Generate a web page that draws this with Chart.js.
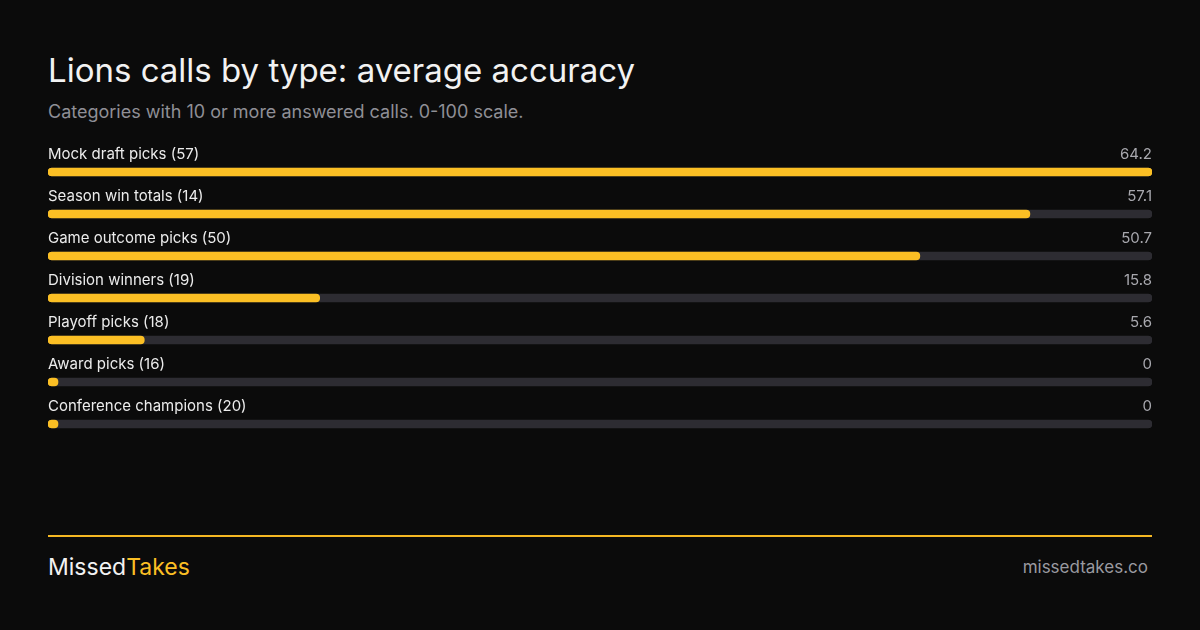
<!DOCTYPE html>
<html><head><meta charset="utf-8">
<script src="https://cdn.jsdelivr.net/npm/chart.js@4"></script>
<style>
body{margin:0;width:1200px;height:630px;background:#0b0b0b;font-family:Inter,"Noto Sans",sans-serif;position:relative;overflow:hidden}
#t{position:absolute;left:48px;top:50px;color:#f2f2f2;font-size:33px;font-weight:400}
#s{position:absolute;left:48px;top:101px;color:#8f8f96;font-size:18px}
#wrap{position:absolute;left:48px;top:131px;width:1104px;height:314px}
#line{position:absolute;left:48px;top:535px;width:1104px;height:2px;background:#f5b823}
#brand{position:absolute;left:48px;top:553px;font-size:23px;color:#f2f2f2}
#brand span{color:#fbbf24}
#url{position:absolute;right:52px;top:557px;font-size:17px;color:#9a9aa0}
</style></head><body>
<div id="t">Lions calls by type: average accuracy</div>
<div id="s">Categories with 10 or more answered calls. 0-100 scale.</div>
<div id="wrap"><canvas id="c"></canvas></div>
<div id="line"></div>
<div id="brand">Missed<span>Takes</span></div>
<div id="url">missedtakes.co</div>
<script>
const categories=["Mock draft picks (57)","Season win totals (14)","Game outcome picks (50)","Division winners (19)","Playoff picks (18)","Award picks (16)","Conference champions (20)"];
const values=[64.2,57.1,50.7,15.8,5.6,0,0];
const valueLabels=["64.2","57.1","50.7","15.8","5.6","0","0"];
const maxVal=Math.max(...values);
const labelsPlugin={id:'lbl',afterDatasetsDraw(ch){
 const ctx=ch.ctx,meta=ch.getDatasetMeta(0),a=ch.chartArea;
 ctx.save();ctx.font='15px Inter, "Noto Sans", sans-serif';ctx.textBaseline='middle';
 meta.data.forEach((b,i)=>{const y=b.y-18;
  ctx.fillStyle='#ececec';ctx.textAlign='left';ctx.fillText(categories[i],a.left,y);
  ctx.fillStyle='#a8a8ae';ctx.textAlign='right';ctx.fillText(valueLabels[i],a.right,y);});
 ctx.restore();}};
new Chart(document.getElementById('c'),{type:'bar',
 data:{labels:categories,datasets:[
  {data:values,backgroundColor:'#fbbf24',barThickness:8,borderRadius:4,borderSkipped:false,minBarLength:10,grouped:false,order:0},
  {data:values.map(()=>maxVal),backgroundColor:'#2d2c32',barThickness:8,borderRadius:4,borderSkipped:false,grouped:false,order:1}]},
 options:{indexAxis:'y',responsive:true,maintainAspectRatio:false,animation:false,
  layout:{padding:{top:20,left:0,right:0,bottom:0}},
  plugins:{legend:{display:false},tooltip:{enabled:false}},
  scales:{x:{display:false,min:0,max:maxVal},y:{display:false}}},
 plugins:[labelsPlugin]});
</script></body></html>
